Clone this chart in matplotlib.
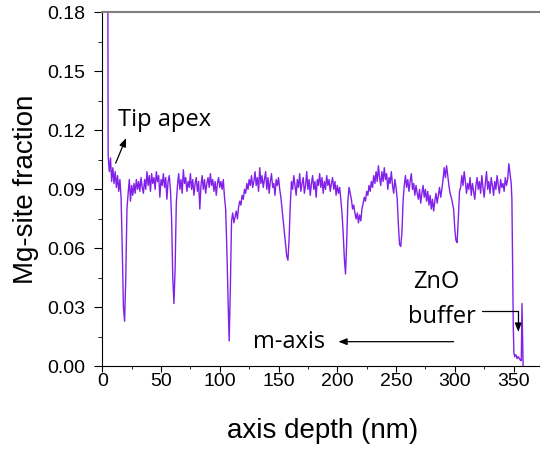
import numpy as np
import matplotlib.pyplot as plt
from matplotlib.ticker import MultipleLocator, FormatStrFormatter

# depth profile (1 nm grid from 5 to 348 nm, then the buffer end)
depth_main = np.arange(5, 349)
mg_main = [
    0.107, 0.099, 0.106, 0.094, 0.101, 0.093, 0.099, 0.091, 0.097, 0.089,  # 5-14
    0.095, 0.086, 0.060, 0.030, 0.023, 0.045, 0.080, 0.088, 0.095, 0.084,  # 15-24
    0.092, 0.087, 0.093, 0.088, 0.095, 0.090, 0.094, 0.089, 0.096, 0.091,  # 25-34
    0.088, 0.095, 0.090, 0.099, 0.092, 0.097, 0.089, 0.098, 0.093, 0.096,  # 35-44
    0.090, 0.099, 0.094, 0.097, 0.086, 0.095, 0.092, 0.098, 0.091, 0.096,  # 45-54
    0.085, 0.094, 0.097, 0.090, 0.075, 0.045, 0.032, 0.050, 0.083, 0.092,  # 55-64
    0.098, 0.090, 0.095, 0.088, 0.100, 0.093, 0.096, 0.089, 0.094, 0.091,  # 65-74
    0.098, 0.090, 0.095, 0.087, 0.093, 0.096, 0.089, 0.094, 0.080, 0.092,  # 75-84
    0.097, 0.090, 0.095, 0.088, 0.093, 0.096, 0.091, 0.098, 0.092, 0.095,  # 85-94
    0.089, 0.094, 0.087, 0.093, 0.096, 0.091, 0.094, 0.090, 0.095, 0.086,  # 95-104
    0.080, 0.060, 0.035, 0.013, 0.040, 0.074, 0.078, 0.073, 0.076, 0.079,  # 105-114
    0.075, 0.081, 0.084, 0.082, 0.087, 0.085, 0.090, 0.088, 0.093, 0.090,  # 115-124
    0.095, 0.092, 0.097, 0.091, 0.094, 0.099, 0.092, 0.096, 0.089, 0.101,  # 125-134
    0.093, 0.097, 0.091, 0.095, 0.099, 0.090, 0.096, 0.088, 0.094, 0.098,  # 135-144
    0.091, 0.093, 0.087, 0.095, 0.092, 0.096, 0.090, 0.086, 0.080, 0.074,  # 145-154
    0.068, 0.062, 0.056, 0.054, 0.065, 0.082, 0.094, 0.090, 0.097, 0.092,  # 155-164
    0.087, 0.095, 0.091, 0.098, 0.089, 0.093, 0.096, 0.088, 0.092, 0.099,  # 165-174
    0.090, 0.095, 0.087, 0.093, 0.097, 0.090, 0.094, 0.086, 0.095, 0.092,  # 175-184
    0.098, 0.091, 0.096, 0.088, 0.094, 0.090, 0.097, 0.092, 0.095, 0.089,  # 185-194
    0.093, 0.096, 0.090, 0.094, 0.087, 0.092, 0.088, 0.091, 0.085, 0.078,  # 195-204
    0.068, 0.055, 0.047, 0.063, 0.084, 0.091, 0.088, 0.085, 0.080, 0.082,  # 205-214
    0.078, 0.075, 0.078, 0.073, 0.077, 0.074, 0.080, 0.083, 0.086, 0.084,  # 215-224
    0.089, 0.087, 0.092, 0.089, 0.094, 0.091, 0.097, 0.093, 0.099, 0.094,  # 225-234
    0.102, 0.096, 0.092, 0.099, 0.094, 0.101, 0.095, 0.098, 0.090, 0.096,  # 235-244
    0.093, 0.099, 0.092, 0.088, 0.095, 0.091, 0.085, 0.072, 0.062, 0.061,  # 245-254
    0.068, 0.084, 0.092, 0.097, 0.091, 0.095, 0.089, 0.094, 0.098, 0.090,  # 255-264
    0.093, 0.087, 0.092, 0.088, 0.085, 0.090, 0.083, 0.088, 0.092, 0.086,  # 265-274
    0.090, 0.084, 0.089, 0.082, 0.087, 0.080, 0.085, 0.079, 0.084, 0.088,  # 275-284
    0.083, 0.087, 0.091, 0.086, 0.090, 0.095, 0.101, 0.096, 0.102, 0.097,  # 285-294
    0.092, 0.088, 0.086, 0.083, 0.080, 0.070, 0.064, 0.063, 0.075, 0.089,  # 295-304
    0.091, 0.097, 0.092, 0.099, 0.094, 0.088, 0.093, 0.090, 0.096, 0.087,  # 305-314
    0.093, 0.089, 0.085, 0.092, 0.096, 0.090, 0.094, 0.088, 0.097, 0.091,  # 315-324
    0.086, 0.093, 0.099, 0.090, 0.094, 0.088, 0.096, 0.092, 0.087, 0.094,  # 325-334
    0.090, 0.097, 0.092, 0.088, 0.095, 0.091, 0.093, 0.089, 0.096, 0.092,  # 335-344
    0.095, 0.103, 0.098, 0.093,                                              # 345-348
]
depth_tail = [348.6, 349.2, 349.8, 350.3, 351, 352, 353, 354, 355, 356, 356.6, 357.2, 357.7, 358.2]
mg_tail = [0.085, 0.050, 0.020, 0.007, 0.005, 0.006, 0.004, 0.005, 0.004, 0.003, 0.003, 0.032, 0.015, -0.002]
# the trace enters from above the frame at the tip
depth_head = [4.4]
mg_head = [0.30]

depth = np.concatenate([depth_head, depth_main, depth_tail])
mg = np.concatenate([mg_head, mg_main, mg_tail])

plt.rcParams['font.family'] = ['Liberation Sans', 'DejaVu Sans']

fig = plt.figure(figsize=(5.4, 4.51), dpi=100)
ax = fig.add_axes([0.1894, 0.1874, 0.816, 0.7854])

ax.plot(depth, mg, color='#8020e8', lw=1.0)

ax.set_xlim(0, 375)
ax.set_ylim(0, 0.18)
ax.set_xticks([0, 50, 100, 150, 200, 250, 300, 350])
ax.xaxis.set_minor_locator(MultipleLocator(25))
ax.set_yticks([0, 0.03, 0.06, 0.09, 0.12, 0.15, 0.18])
ax.yaxis.set_minor_locator(MultipleLocator(0.015))
ax.yaxis.set_major_formatter(FormatStrFormatter('%.2f'))
ax.tick_params(axis='both', which='major', labelsize=14)
ax.tick_params(axis='x', which='major', length=4, pad=1)
ax.tick_params(axis='x', which='minor', length=2.5)
ax.tick_params(axis='y', which='major', length=6, pad=6)
ax.tick_params(axis='y', which='minor', length=3)

ax.spines['right'].set_visible(False)
ax.spines['top'].set_color('#7f7f7f')
ax.spines['top'].set_linewidth(1.5)

ax.set_xlabel('axis depth (nm)', fontsize=20, labelpad=20)
ax.set_ylabel('Mg-site fraction', fontsize=20, labelpad=6)

# annotations
note_font = dict(family='Open Sans', fontsize=17)
ax.text(13.6, 0.1222, 'Tip apex', ha='left', va='baseline', **note_font)
ax.text(284.3, 0.0397, 'ZnO', ha='center', va='baseline', **note_font)
ax.text(289.3, 0.0220, 'buffer', ha='center', va='baseline', **note_font)
ax.text(128.1, 0.0094, 'm-axis', ha='left', va='baseline', **note_font)

arrow = dict(arrowstyle='-|>,head_length=0.5,head_width=0.2', color='black', lw=0.9,
             shrinkA=0, shrinkB=0)
ax.annotate('', xy=(20.2, 0.116), xytext=(11.4, 0.1033), arrowprops=arrow)
ax.annotate('', xy=(201, 0.0126), xytext=(299, 0.0126), arrowprops=arrow)
ax.annotate('', xy=(354, 0.0177), xytext=(323, 0.0282),
            arrowprops=dict(arrow, connectionstyle='angle,angleA=0,angleB=90,rad=0'))

fig.savefig('out.png', dpi=100)
